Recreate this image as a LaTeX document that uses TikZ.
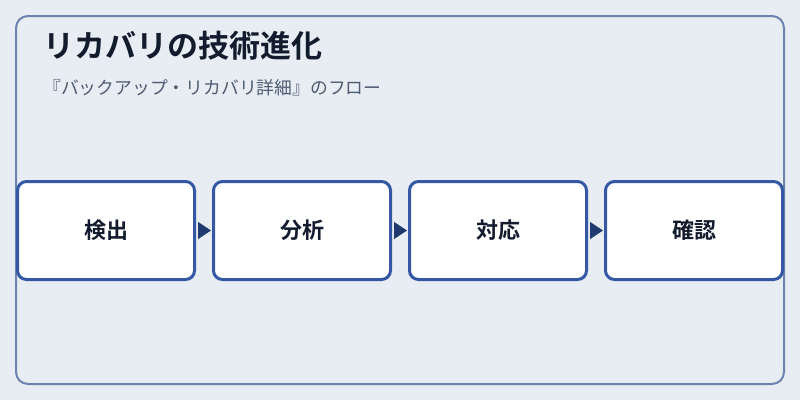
\documentclass[tikz,border=0pt]{standalone}
\usepackage{fontspec}
\setmainfont{Noto Sans CJK JP}[BoldFont={Noto Sans CJK JP Bold}]
\usepackage{tikz}
\usepackage{xcolor}
\usetikzlibrary{arrows.meta, positioning}
\definecolor{pagebg}{RGB}{232, 237, 243}
\definecolor{framecolor}{RGB}{107, 131, 173}
\definecolor{boxblue}{RGB}{53, 88, 165}
\definecolor{arrownavy}{RGB}{31, 58, 110}
\definecolor{titleink}{RGB}{19, 28, 46}
\definecolor{subink}{RGB}{77, 91, 115}

\begin{document}
\begin{tikzpicture}[x=1pt, y=-1pt,
    stagebox/.style={draw=boxblue, fill=white, line width=3pt, rounded corners=9pt,
        minimum width=177pt, minimum height=98pt, inner sep=0pt,
        font=\fontsize{22}{26}\selectfont\bfseries, text=titleink},
    flowarrow/.style={arrownavy, line width=1pt, shorten <=2pt, shorten >=1pt,
        -{Triangle[length=13pt, width=17pt]}}]
    % Background and frame
    \fill[pagebg] (0,0) rectangle (800,400);
    \useasboundingbox (0,0) rectangle (800,400);
    \draw[framecolor, line width=2pt, rounded corners=12pt] (16,16) rectangle (784,384);

    % Heading
    \node[anchor=base west, inner sep=0pt, text=titleink,
        font=\fontsize{31}{37}\selectfont\bfseries] (title) at (43,57) {リカバリの技術進化};
    \node[anchor=base west, inner sep=0pt, text=subink,
        font=\fontsize{17.8}{21}\selectfont] (subtitle) at (43,94) {『バックアップ・リカバリ詳細』のフロー};

    % Flow stages
    \node[stagebox] (detect) at (106,230.5) {検出};
    \node[stagebox, right=16pt of detect] (analyze) {分析};
    \node[stagebox, right=16pt of analyze] (respond) {対応};
    \node[stagebox, right=16pt of respond] (confirm) {確認};

    % Arrows between stages
    \draw[flowarrow] (detect) -- (analyze);
    \draw[flowarrow] (analyze) -- (respond);
    \draw[flowarrow] (respond) -- (confirm);
\end{tikzpicture}
\end{document}
